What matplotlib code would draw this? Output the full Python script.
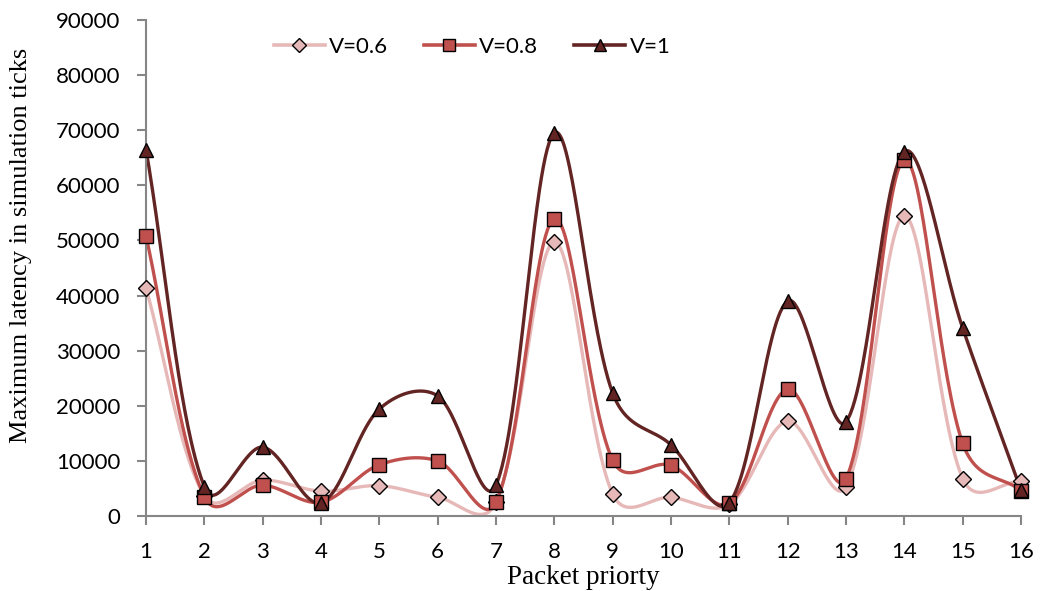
import numpy as np
import matplotlib
matplotlib.use("Agg")
import matplotlib.pyplot as plt
from matplotlib.lines import Line2D

priority = list(range(1, 17))
v06 = [41400, 3700, 6500, 4500, 5500, 3400, 2500, 49700, 4000, 3400, 2100, 17200, 5300, 54400, 6800, 6300]
v08 = [50800, 3500, 5600, 2500, 9300, 10000, 2500, 53900, 10100, 9200, 2300, 23000, 6800, 64600, 13200, 4600]
v10 = [66500, 5300, 12500, 2400, 19400, 21800, 5600, 69500, 22300, 12900, 2400, 39000, 17100, 66100, 34100, 4700]

series = [
    ("V=0.6", v06, "#E6B9B8", "D", 8.5),
    ("V=0.8", v08, "#C0504D", "s", 10),
    ("V=1", v10, "#632523", "^", 10),
]

W, H = 1045, 591
fig = plt.figure(figsize=(W / 100, H / 100), dpi=100)
ax = fig.add_axes([146 / W, 75 / H, 875 / W, 496 / H])
ax.set_xlim(1, 16)
ax.set_ylim(0, 90000)


def smooth(x, y, n=60, blend=0.5):
    """Bezier curve through the points; tangents mix uniform and
    chord-length weighting, computed in display units."""
    pts = ax.transData.transform(np.column_stack([x, y]).astype(float))
    m = len(pts)
    d = np.linalg.norm(np.diff(pts, axis=0), axis=1)
    t = np.linspace(0, 1, n)[:, None]

    def weight(a, b):
        return (1 - blend) * 0.5 + blend * a / (a + b)

    out = []
    for i in range(m - 1):
        p1, p2 = pts[i], pts[i + 1]
        if i == 0:
            c1 = p1 + (p2 - p1) / 3
        else:
            c1 = p1 + (pts[i + 1] - pts[i - 1]) * weight(d[i], d[i - 1]) / 3
        if i + 2 >= m:
            c2 = p2 - (p2 - p1) / 3
        else:
            c2 = p2 - (pts[i + 2] - pts[i]) * weight(d[i], d[i + 1]) / 3
        b = (1 - t) ** 3 * p1 + 3 * (1 - t) ** 2 * t * c1 + 3 * (1 - t) * t ** 2 * c2 + t ** 3 * p2
        out.append(b)
    data = ax.transData.inverted().transform(np.vstack(out))
    return data[:, 0], data[:, 1]


handles = []
for label, vals, color, marker, ms in series:
    sx, sy = smooth(priority, vals)
    ax.plot(sx, sy, color=color, lw=2.4, solid_capstyle="round", clip_on=False, zorder=2)
    ax.plot(priority, vals, linestyle="none", marker=marker, markersize=ms,
            markerfacecolor=color, markeredgecolor="black", markeredgewidth=1,
            clip_on=False, zorder=3)
    handles.append(Line2D([0], [0], color=color, lw=2.6, marker=marker, markersize=ms - 1,
                          markerfacecolor=color, markeredgecolor="black",
                          markeredgewidth=1, label=label))

ax.set_xticks(priority)
ax.set_yticks(np.arange(0, 90001, 10000))

for side in ("top", "right"):
    ax.spines[side].set_visible(False)
for side in ("left", "bottom"):
    ax.spines[side].set_color("#868686")
    ax.spines[side].set_linewidth(1.5)
ax.tick_params(axis="both", colors="#868686", length=6.5, width=1.5, labelcolor="black",
               labelsize=16)
ax.tick_params(axis="y", pad=12)
ax.tick_params(axis="x", pad=12)
for lab in ax.get_xticklabels() + ax.get_yticklabels():
    lab.set_family("Lato")

fig.text(583.5 / W, 1 - 577 / H, "Packet priorty", family="Liberation Serif", fontsize=19.5,
         ha="center", va="center")
fig.text(21 / W, 1 - 245 / H, "Maximum latency in simulation ticks", family="Liberation Serif",
         fontsize=19, rotation=90, ha="center", va="center")

ax.legend(handles=handles, loc="center", bbox_to_anchor=(326 / 875, 1 - 27 / 496),
          ncol=3, frameon=False, handlelength=2.3, columnspacing=1.6, handletextpad=0.2,
          prop={"family": "Lato", "size": 16})

fig.savefig("out.png", dpi=100)
